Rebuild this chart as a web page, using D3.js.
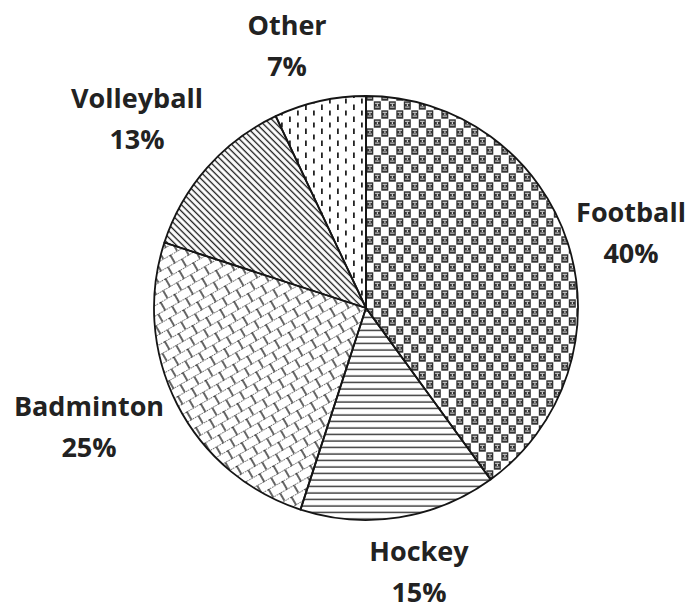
<!DOCTYPE html>
<html>
<head>
<meta charset="utf-8">
<script src="https://cdn.jsdelivr.net/npm/d3@7"></script>
<style>
body { margin: 0; background: #fff; }
.lbl { font-family: 'Open Sans', sans-serif; font-weight: 700; font-size: 27px; fill: #222; }
</style>
</head>
<body>
<div id="chart"></div>
<script>
const categories = ['Football', 'Hockey', 'Badminton', 'Volleyball', 'Other']
const shares = [40, 15, 25, 13, 7]
const percentLabels = ['40%', '15%', '25%', '13%', '7%']

const width = 687,
      height = 611
const cx = 366,
      cy = 308,
      radius = 212

// where each label sits, relative to the pie centre: [centre x, first baseline]
const labelAt = {
  Football: [265, -86],
  Hockey: [53, 253],
  Badminton: [-277, 108],
  Volleyball: [-229, -200],
  Other: [-79, -273]
}

const svg = d3.select('#chart')
  .append('svg')
  .attr('width', width)
  .attr('height', height)

svg.append('rect')
  .attr('width', width)
  .attr('height', height)
  .attr('fill', '#fff')

const defs = svg.append('defs')

// football: dark checks with little white marks inside
const pFoot = defs.append('pattern')
  .attr('id', 'p-Football')
  .attr('patternUnits', 'userSpaceOnUse')
  .attr('width', 15)
  .attr('height', 18)
;[[0, 0], [7.5, 9]].forEach(function(o) {
  const g = pFoot.append('g').attr('transform', 'translate(' + o[0] + ',' + o[1] + ')')
  g.append('rect').attr('x', 0.3).attr('y', 0.3).attr('width', 7).attr('height', 8.4).attr('fill', '#333')
  g.append('rect').attr('x', 1.6).attr('y', 1.8).attr('width', 4.4).attr('height', 1).attr('fill', '#ddd')
  g.append('rect').attr('x', 1.6).attr('y', 5.6).attr('width', 4.4).attr('height', 1).attr('fill', '#ddd')
  g.append('rect').attr('x', 3.3).attr('y', 3.3).attr('width', 1.2).attr('height', 1.6).attr('fill', '#eee')
})

// hockey: horizontal lines
const pHockey = defs.append('pattern')
  .attr('id', 'p-Hockey')
  .attr('patternUnits', 'userSpaceOnUse')
  .attr('width', 10)
  .attr('height', 6.5)
pHockey.append('line')
  .attr('x1', 0).attr('x2', 10).attr('y1', 3).attr('y2', 3)
  .attr('stroke', '#222').attr('stroke-width', 1.3)

// badminton: diagonal bricks
const pBad = defs.append('pattern')
  .attr('id', 'p-Badminton')
  .attr('patternUnits', 'userSpaceOnUse')
  .attr('width', 16)
  .attr('height', 18)
  .attr('patternTransform', 'rotate(-30)')
pBad.append('line').attr('x1', 0).attr('x2', 16).attr('y1', 0.5).attr('y2', 0.5)
  .attr('stroke', '#666').attr('stroke-width', 1.2).attr('stroke-dasharray', '1.5,1')
pBad.append('line').attr('x1', 0).attr('x2', 16).attr('y1', 9.5).attr('y2', 9.5)
  .attr('stroke', '#666').attr('stroke-width', 1.2).attr('stroke-dasharray', '1.5,1')
pBad.append('line').attr('x1', 1).attr('x2', 1).attr('y1', 0).attr('y2', 9.5)
  .attr('stroke', '#111').attr('stroke-width', 1.3)
pBad.append('line').attr('x1', 9).attr('x2', 9).attr('y1', 9.5).attr('y2', 18)
  .attr('stroke', '#111').attr('stroke-width', 1.3)

// volleyball: dense diagonal lines
const pVolley = defs.append('pattern')
  .attr('id', 'p-Volleyball')
  .attr('patternUnits', 'userSpaceOnUse')
  .attr('width', 4.6)
  .attr('height', 4.6)
  .attr('patternTransform', 'rotate(45)')
pVolley.append('line')
  .attr('x1', 0).attr('x2', 4.6).attr('y1', 2.3).attr('y2', 2.3)
  .attr('stroke', '#111').attr('stroke-width', 1.3)

// other: staggered short dashes
const pOther = defs.append('pattern')
  .attr('id', 'p-Other')
  .attr('patternUnits', 'userSpaceOnUse')
  .attr('width', 16)
  .attr('height', 12)
pOther.append('rect').attr('x', 3).attr('y', 0.5).attr('width', 1.8).attr('height', 5.5).attr('fill', '#222')
pOther.append('rect').attr('x', 11).attr('y', 6.5).attr('width', 1.8).attr('height', 5).attr('fill', '#222')

const pie = d3.pie()
  .sort(null)
  .value(function(d) { return d })

const arc = d3.arc()
  .innerRadius(0)
  .outerRadius(radius)

const arcs = pie(shares)

const g = svg.append('g')
  .attr('transform', 'translate(' + cx + ',' + cy + ')')

g.selectAll('.slice')
  .data(arcs)
  .enter().append('path')
  .attr('class', 'slice')
  .attr('d', arc)
  .attr('fill', function(d, i) { return 'url(#p-' + categories[i] + ')' })
  .attr('stroke', '#151515')
  .attr('stroke-width', 1.8)
  .attr('stroke-linejoin', 'round')

const labels = g.selectAll('.lbl')
  .data(categories)
  .enter().append('text')
  .attr('class', 'lbl')
  .attr('text-anchor', 'middle')
  .attr('x', function(d) { return labelAt[d][0] })
  .attr('y', function(d) { return labelAt[d][1] })

labels.append('tspan')
  .attr('x', function(d) { return labelAt[d][0] })
  .text(function(d) { return d })

labels.append('tspan')
  .attr('x', function(d) { return labelAt[d][0] })
  .attr('dy', 41)
  .text(function(d, i) { return percentLabels[i] })
</script>
</body>
</html>
